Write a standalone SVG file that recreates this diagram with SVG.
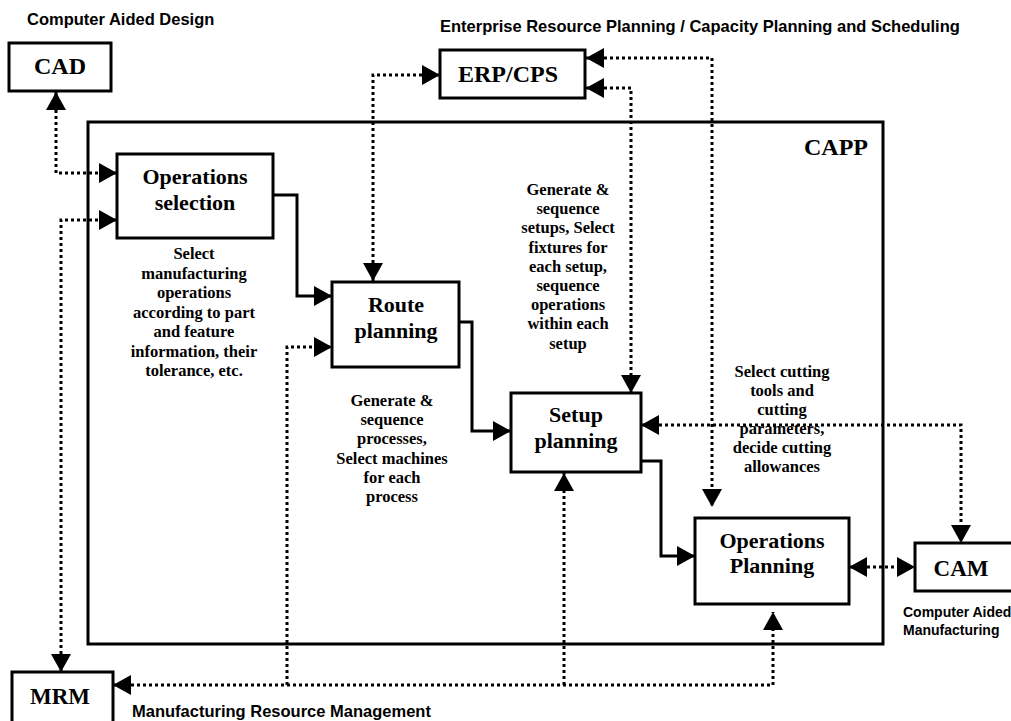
<svg xmlns="http://www.w3.org/2000/svg" width="1011" height="721" viewBox="0 0 1011 721">
  <style>
    .box { fill: #fff; stroke: #000; stroke-width: 3; }
    .frame { fill: none; stroke: #000; stroke-width: 3; }
    .flow { fill: none; stroke: #000; stroke-width: 3; }
    .link { fill: none; stroke: #000; stroke-width: 3; stroke-dasharray: 3 3; }
    .title { font-family: "Liberation Serif", "Times New Roman", serif; font-weight: bold; fill: #000; text-anchor: middle; }
    .ext { font-size: 24px; }
    .int { font-size: 22px; }
    .desc { font-family: "Liberation Serif", "Times New Roman", serif; font-weight: bold; font-size: 16.5px; fill: #000; text-anchor: middle; }
    .caption { font-family: "Liberation Sans", Arial, sans-serif; font-weight: bold; fill: #000; }
  </style>
  <defs>
    <marker id="arrow" markerUnits="userSpaceOnUse" markerWidth="18" markerHeight="20" refX="18" refY="10" orient="auto-start-reverse" viewBox="0 0 18 20">
      <path d="M0,0 L18,10 L0,20 z" fill="#000"/>
    </marker>
  </defs>

  <rect width="1011" height="721" fill="#fff"/>

  <!-- CAPP frame -->
  <g id="capp">
    <rect class="frame" x="88" y="122" width="795" height="522"/>
    <text class="title" x="868" y="155" font-size="24" style="text-anchor:end">CAPP</text>
  </g>

  <!-- captions of the outside systems -->
  <text class="caption" x="27" y="25" font-size="16.5">Computer Aided Design</text>
  <text class="caption" x="440" y="32" font-size="16.5">Enterprise Resource Planning / Capacity Planning and Scheduling</text>
  <text class="caption" x="132" y="717" font-size="16.5">Manufacturing Resource Management</text>
  <text class="caption" x="903" y="617" font-size="14">Computer Aided</text>
  <text class="caption" x="903" y="635" font-size="14">Manufacturing</text>

  <!-- outside systems -->
  <g id="cad">
    <rect class="box" x="9" y="43" width="102" height="48"/>
    <text class="title ext" x="60" y="74">CAD</text>
  </g>
  <g id="erp">
    <rect class="box" x="440" y="50" width="145" height="48"/>
    <text class="title ext" x="508" y="82">ERP/CPS</text>
  </g>
  <g id="cam">
    <rect class="box" x="915" y="543" width="100" height="48"/>
    <text class="title" x="961" y="576" font-size="23">CAM</text>
  </g>
  <g id="mrm">
    <rect class="box" x="12" y="672" width="101" height="54"/>
    <text class="title" x="60" y="704" font-size="23">MRM</text>
  </g>

  <!-- planning steps -->
  <g id="operations-selection">
    <rect class="box" x="117" y="154" width="156" height="84"/>
    <text class="title int" x="195" y="184">Operations</text>
    <text class="title int" x="195" y="210">selection</text>
  </g>
  <g id="route-planning">
    <rect class="box" x="332" y="282" width="127" height="85"/>
    <text class="title int" x="396" y="312">Route</text>
    <text class="title int" x="396" y="338">planning</text>
  </g>
  <g id="setup-planning">
    <rect class="box" x="511" y="393" width="130" height="79"/>
    <text class="title int" x="576" y="422">Setup</text>
    <text class="title int" x="576" y="448">planning</text>
  </g>
  <g id="operations-planning">
    <rect class="box" x="695" y="518" width="154" height="86"/>
    <text class="title int" x="772" y="548">Operations</text>
    <text class="title int" x="772" y="573">Planning</text>
  </g>

  <!-- step descriptions -->
  <g id="notes">
    <text class="desc" x="194" y="259">Select</text>
    <text class="desc" x="194" y="278.5">manufacturing</text>
    <text class="desc" x="194" y="298">operations</text>
    <text class="desc" x="194" y="317.5">according to part</text>
    <text class="desc" x="194" y="337">and feature</text>
    <text class="desc" x="194" y="356.5">information, their</text>
    <text class="desc" x="194" y="376">tolerance, etc.</text>

    <text class="desc" x="392" y="406">Generate &amp;</text>
    <text class="desc" x="392" y="425.2">sequence</text>
    <text class="desc" x="392" y="444.4">processes,</text>
    <text class="desc" x="392" y="463.6">Select machines</text>
    <text class="desc" x="392" y="482.8">for each</text>
    <text class="desc" x="392" y="502">process</text>

    <text class="desc" x="568" y="195">Generate &amp;</text>
    <text class="desc" x="568" y="214.2">sequence</text>
    <text class="desc" x="568" y="233.4">setups, Select</text>
    <text class="desc" x="568" y="252.6">fixtures for</text>
    <text class="desc" x="568" y="271.8">each setup,</text>
    <text class="desc" x="568" y="291">sequence</text>
    <text class="desc" x="568" y="310.2">operations</text>
    <text class="desc" x="568" y="329.4">within each</text>
    <text class="desc" x="568" y="348.6">setup</text>

    <text class="desc" x="782" y="377">Select cutting</text>
    <text class="desc" x="782" y="396">tools and</text>
    <text class="desc" x="782" y="415">cutting</text>
    <text class="desc" x="782" y="434">parameters,</text>
    <text class="desc" x="782" y="453">decide cutting</text>
    <text class="desc" x="782" y="472">allowances</text>
  </g>

  <!-- connectors -->
  <g id="connectors">
    <!-- main planning sequence -->
    <path class="flow" d="M273,195 H297 V296 H332" marker-end="url(#arrow)"/>
    <path class="flow" d="M459,322 H472 V431 H511" marker-end="url(#arrow)"/>
    <path class="flow" d="M641,461 H661 V556 H695" marker-end="url(#arrow)"/>

    <!-- information exchange with outside systems -->
    <path class="link" d="M56,92 V173 H117" marker-start="url(#arrow)" marker-end="url(#arrow)"/>
    <path class="link" d="M61,672 V220 H117" marker-start="url(#arrow)" marker-end="url(#arrow)"/>
    <path class="link" d="M440,75 H373 V281" marker-start="url(#arrow)" marker-end="url(#arrow)"/>
    <path class="link" d="M586,88 H631 V393" marker-start="url(#arrow)" marker-end="url(#arrow)"/>
    <path class="link" d="M586,58 H712 V507" marker-start="url(#arrow)" marker-end="url(#arrow)"/>
    <path class="link" d="M641,425 H961 V543" marker-start="url(#arrow)" marker-end="url(#arrow)"/>
    <path class="link" d="M849,567 H915" marker-start="url(#arrow)" marker-end="url(#arrow)"/>
    <path class="link" d="M113,685 H773 V612" marker-start="url(#arrow)" marker-end="url(#arrow)"/>
    <path class="link" d="M287,685 V347 H332" marker-end="url(#arrow)"/>
    <path class="link" d="M564,685 V473" marker-end="url(#arrow)"/>
  </g>
</svg>
